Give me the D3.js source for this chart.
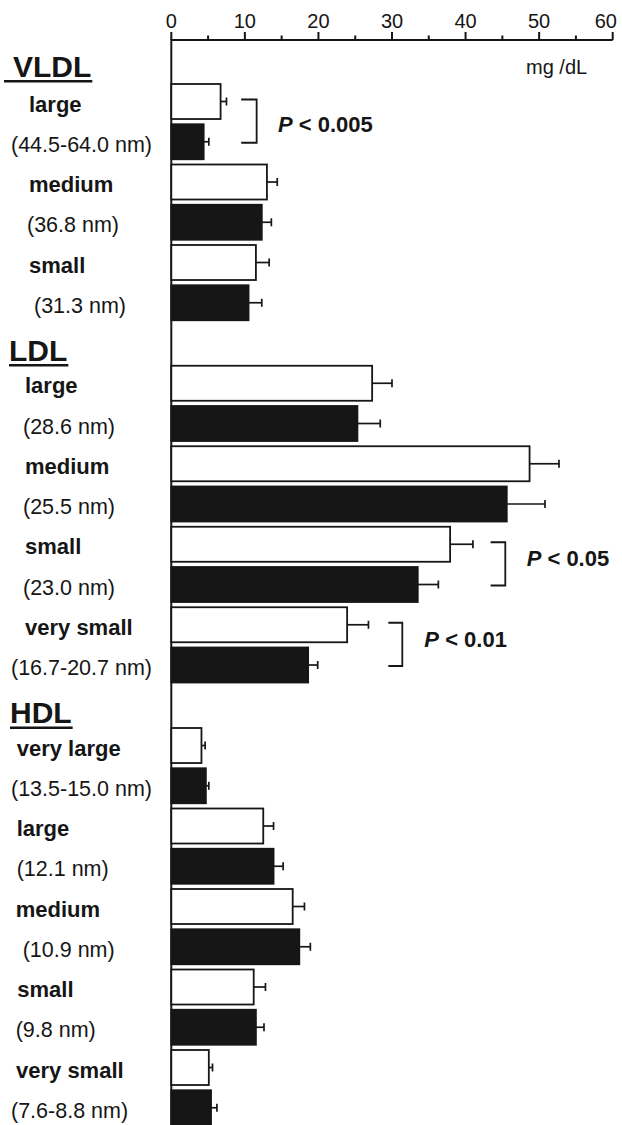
<!DOCTYPE html>
<html>
<head>
<meta charset="utf-8">
<script src="https://cdn.jsdelivr.net/npm/d3@7"></script>
<style>
  html, body { margin: 0; padding: 0; background: #fff; }
  svg { display: block; }
  text { font-family: "Liberation Sans", Arial, Helvetica, sans-serif; fill: #161616; }
</style>
</head>
<body>
<svg id="chart" width="622" height="1125"></svg>
<script>
// ---------- DATA ----------
const groups = ["VLDL", "LDL", "HDL"];
const subclassNames = [
  ["large", "medium", "small"],
  ["large", "medium", "small", "very small"],
  ["very large", "large", "medium", "small", "very small"]
];
const subclassSizes = [
  ["(44.5-64.0 nm)", "(36.8 nm)", "(31.3 nm)"],
  ["(28.6 nm)", "(25.5 nm)", "(23.0 nm)", "(16.7-20.7 nm)"],
  ["(13.5-15.0 nm)", "(12.1 nm)", "(10.9 nm)", "(9.8 nm)", "(7.6-8.8 nm)"]
];
// open bars (mean) and their SE
const whiteMeans = [6.7, 13.0, 11.5, 27.3, 48.7, 37.9, 23.9, 4.1, 12.5, 16.5, 11.2, 5.1];
const whiteErr   = [0.8, 1.4, 1.8, 2.7, 4.0, 3.1, 2.9, 0.5, 1.4, 1.6, 1.6, 0.5];
// filled bars (mean) and their SE
const blackMeans = [4.4, 12.3, 10.5, 25.3, 45.6, 33.5, 18.6, 4.7, 13.9, 17.4, 11.5, 5.4];
const blackErr   = [0.7, 1.3, 1.8, 3.1, 5.2, 2.8, 1.3, 0.4, 1.3, 1.5, 1.1, 0.8];
const xTicks = [0, 10, 20, 30, 40, 50, 60];
const unitLabel = "mg /dL";
// significance annotations: subclass index (global), label, bracket x (data units), text x (data units)
const pSubclass = [0, 5, 6];
const pLabels = ["0.005", "0.05", "0.01"];
const pBracketArm = [9.5, 43.4, 29.5];
const pBracketX = [11.6, 45.4, 31.4];
const pTextX = [14.5, 48.3, 34.4];

// ---------- LAYOUT ----------
const W = 622;
const svg = d3.select("#chart");
const ink = "#161616";

const rows = [];
let si = 0;
groups.forEach((g, i) => {
  rows.push({ key: "h-" + g, type: "header", label: g });
  subclassNames[i].forEach((nm, j) => {
    rows.push({ key: "w-" + si, type: "white", idx: si, label: nm });
    rows.push({ key: "b-" + si, type: "black", idx: si, label: subclassSizes[i][j] });
    si++;
  });
});

const n = rows.length;
const step = 40.25;
const pad = 0.13;
const r0 = 43.75 - step * pad / 2;
const y = d3.scaleBand()
  .domain(rows.map(r => r.key))
  .range([r0, r0 + n * step])
  .paddingInner(pad)
  .paddingOuter(pad / 2);

const x = d3.scaleLinear().domain([0, 60]).range([171.3, 612.7]);
const axisY = 40;

// ---------- AXIS ----------
const axisG = svg.append("g").attr("transform", `translate(0,${axisY})`);
axisG.append("line")
  .attr("x1", x(0)).attr("x2", x(60))
  .attr("y1", 0).attr("y2", 0)
  .attr("stroke", ink).attr("stroke-width", 2);
const minorTicks = d3.range(5, 60, 10);
axisG.selectAll(".maj").data(xTicks).enter().append("line")
  .attr("x1", d => x(d)).attr("x2", d => x(d))
  .attr("y1", 0).attr("y2", -8)
  .attr("stroke", ink).attr("stroke-width", 2);
axisG.selectAll(".min").data(minorTicks).enter().append("line")
  .attr("x1", d => x(d)).attr("x2", d => x(d))
  .attr("y1", 0).attr("y2", -4.5)
  .attr("stroke", ink).attr("stroke-width", 2);
axisG.selectAll(".tl").data(xTicks).enter().append("text")
  .attr("y", -12.5)
  .attr("font-size", 20)
  .text(d => d)
  .each(function (d) {
    const w = this.getComputedTextLength();
    const cx = Math.min(x(d), W - 5 - w / 2);
    d3.select(this).attr("x", cx).attr("text-anchor", "middle");
  });

// vertical axis
svg.append("line")
  .attr("x1", x(0)).attr("x2", x(0))
  .attr("y1", axisY - 1).attr("y2", 1125)
  .attr("stroke", ink).attr("stroke-width", 2);

svg.append("text")
  .attr("x", 526).attr("y", 73.5)
  .attr("font-size", 20)
  .text(unitLabel);

// ---------- BARS ----------
const barRows = rows.filter(r => r.type !== "header");
const val = r => r.type === "white" ? whiteMeans[r.idx] : blackMeans[r.idx];
const err = r => r.type === "white" ? whiteErr[r.idx] : blackErr[r.idx];

svg.selectAll(".bar").data(barRows).enter().append("rect")
  .attr("x", x(0))
  .attr("y", r => y(r.key))
  .attr("width", r => x(val(r)) - x(0))
  .attr("height", y.bandwidth())
  .attr("fill", r => r.type === "white" ? "#fff" : ink)
  .attr("stroke", ink)
  .attr("stroke-width", 1.8);

// error bars (one-sided)
const eb = svg.selectAll(".eb").data(barRows).enter().append("g");
eb.append("line")
  .attr("x1", r => x(val(r))).attr("x2", r => x(val(r) + err(r)))
  .attr("y1", r => y(r.key) + y.bandwidth() / 2)
  .attr("y2", r => y(r.key) + y.bandwidth() / 2)
  .attr("stroke", ink).attr("stroke-width", 1.7);
eb.append("line")
  .attr("x1", r => x(val(r) + err(r))).attr("x2", r => x(val(r) + err(r)))
  .attr("y1", r => y(r.key) + y.bandwidth() / 2 - 4)
  .attr("y2", r => y(r.key) + y.bandwidth() / 2 + 4)
  .attr("stroke", ink).attr("stroke-width", 1.7);

// ---------- LABELS ----------
const whiteLabelX = [29, 29, 29, 25, 25, 25, 25, 16.7, 16.7, 15.7, 17.3, 16];
const blackLabelX = [11, 27, 34, 23, 23, 23, 11, 11, 16.7, 22.7, 15.7, 11];

svg.selectAll(".lab").data(barRows).enter().append("text")
  .attr("x", r => r.type === "white" ? whiteLabelX[r.idx] : blackLabelX[r.idx])
  .attr("y", r => y(r.key) + y.bandwidth() / 2 + 10)
  .attr("font-size", r => r.type === "white" ? 22 : 21.5)
  .attr("font-weight", r => r.type === "white" ? "bold" : "normal")
  .text(r => r.label);

// group headers
const headerRows = rows.filter(r => r.type === "header");
const headerX = [13, 9, 10];
const headerUnderlineX0 = [4, 9, 10];
const headerDy = [15.5, 17.7, 18];
headerRows.forEach((r, i) => {
  const cy = y(r.key) + y.bandwidth() / 2;
  const t = svg.append("text")
    .attr("x", headerX[i]).attr("y", cy + headerDy[i])
    .attr("font-size", 30).attr("font-weight", "bold")
    .text(r.label);
  const w = t.node().getComputedTextLength();
  svg.append("line")
    .attr("x1", headerUnderlineX0[i]).attr("x2", headerX[i] + w + 1)
    .attr("y1", cy + headerDy[i] + 4.5).attr("y2", cy + headerDy[i] + 4.5)
    .attr("stroke", ink).attr("stroke-width", 2.5);
});

// ---------- SIGNIFICANCE ----------
const pTextDy = [10.5, 2, 3];
pSubclass.forEach((s, i) => {
  const yTop = y("w-" + s) + y.bandwidth() / 2 - 2;
  const yBot = y("b-" + s) + y.bandwidth() / 2 + 1;
  const xa = x(pBracketArm[i]), xb = x(pBracketX[i]);
  svg.append("path")
    .attr("d", `M${xa},${yTop}H${xb}V${yBot}H${xa}`)
    .attr("fill", "none").attr("stroke", ink).attr("stroke-width", 1.8);
  const t = svg.append("text")
    .attr("x", x(pTextX[i]))
    .attr("y", (yTop + yBot) / 2 + pTextDy[i])
    .attr("font-size", 22).attr("font-weight", "bold");
  t.append("tspan").attr("font-style", "italic").text("P");
  t.append("tspan").text(" < " + pLabels[i]);
});
</script>
</body>
</html>
